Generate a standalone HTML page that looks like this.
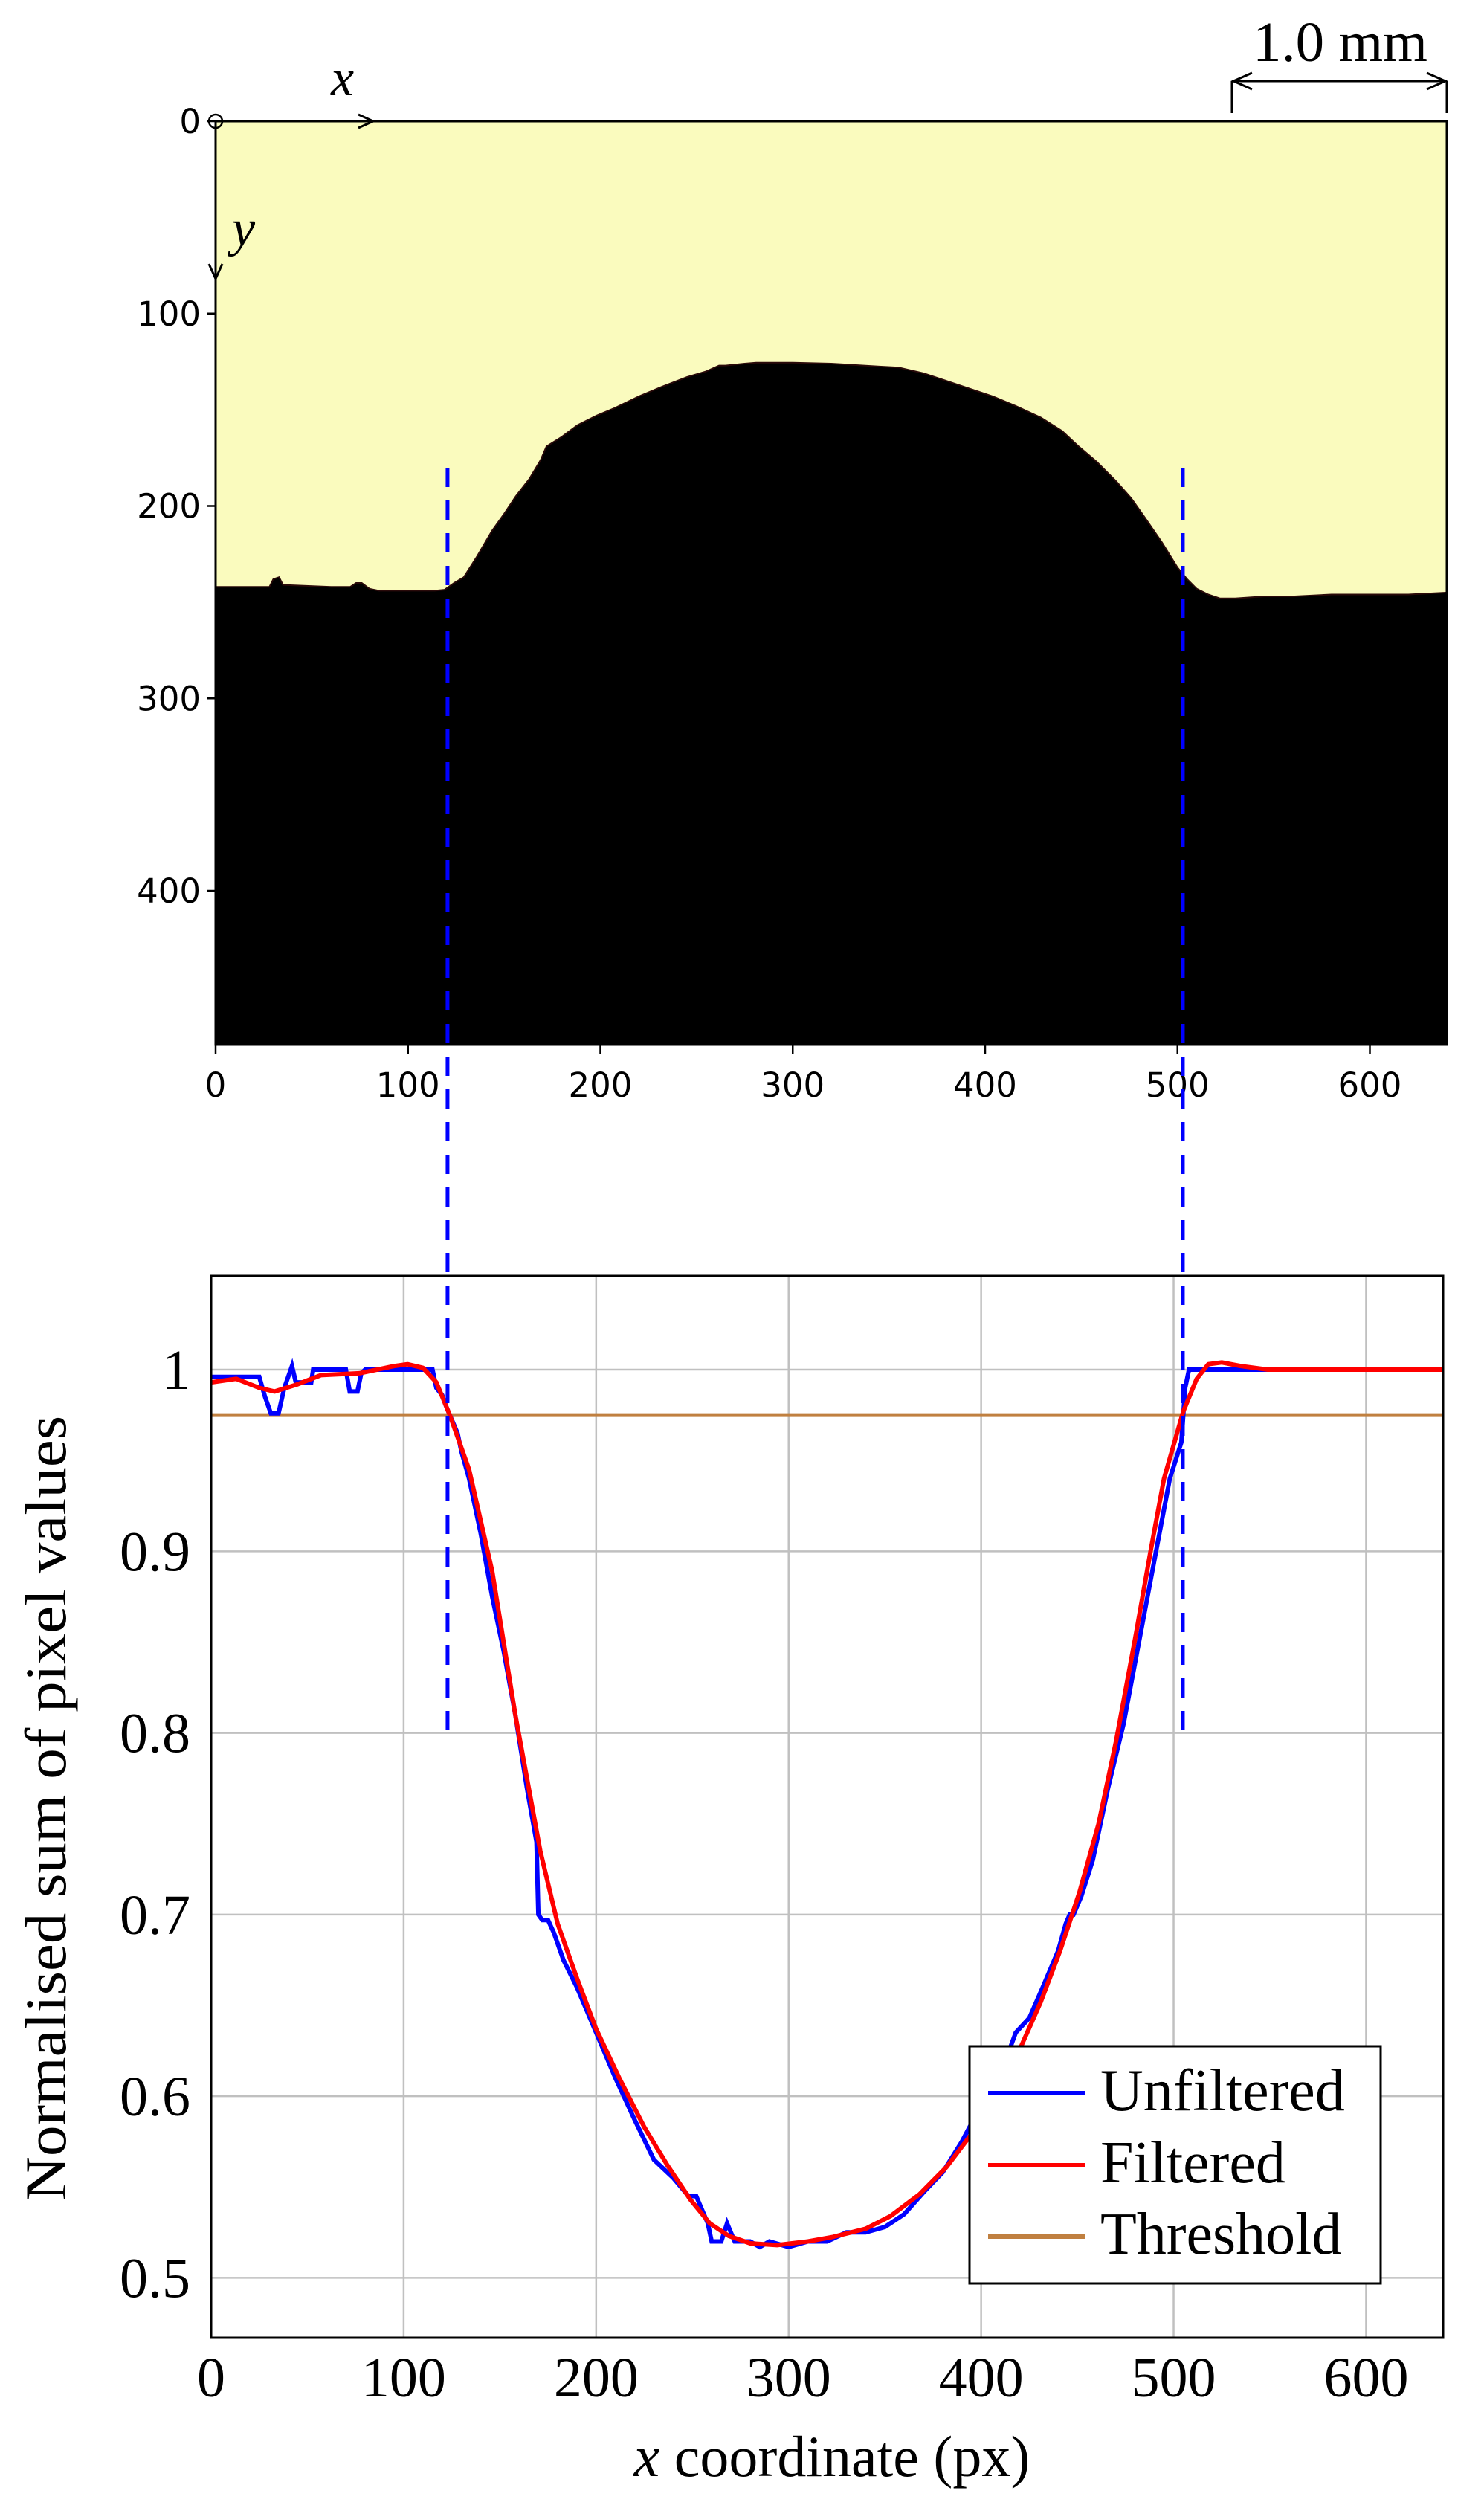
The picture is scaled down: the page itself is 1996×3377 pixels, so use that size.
<!DOCTYPE html>
<html><head><meta charset="utf-8">
<style>
html,body{margin:0;padding:0;background:#fff;}
svg{display:block;}
text{font-family:"Liberation Serif",serif;}
.dj{font-family:"DejaVu Sans",sans-serif;}
</style></head>
<body>
<svg id="fig" width="1996" height="3377" viewBox="0 0 1996 3377" xmlns="http://www.w3.org/2000/svg">
  <g id="top"></g>
  <g id="bot"></g>
  <g id="dash"></g>
</svg>
<script>
// ---------- data ----------
const imgTicksX = [0,100,200,300,400,500,600];
const imgTicksY = [0,100,200,300,400];
// boundary of black region (image px coords)
const boundaryX = [0,28,30,33,35,60,70,73,76,80,85,100,114,119,124,129,136,143.6,150,156,163,169,172,180,188,198,207.6,220,232,245,255,261.7,265,275,281,300,320,330.5,345,355,368,380,392,404,416,429,440,448.6,458,468,476,483,492,500,505,510,516,522,530,545,560,580,600,620,640];
const boundaryY = [242,242,238,237,241,242,242,240,240,243,244,244,244,243.5,240,237,226,213,204,195,186,176,169,164,158,153,149,143,138,133,130,127,127,126,125.5,125.5,126,126.6,127.5,128,131,135,139,143,148,154,161,169,177,187,196,206,219,232,238,243,246,248,248,247,247,246,246,246,245];
const chartTicksX = [0,100,200,300,400,500,600];
const chartTicksY = [0.5,0.6,0.7,0.8,0.9,1];
const chartTickLabelsY = ["0.5","0.6","0.7","0.8","0.9","1"];
const filtX = [0,13,25,33,45,57,77,95,102,110,117,124,134,146,158,171,180,190,200,212,225,237,249,259,269,280,294,310,323,340,353,368,382,397,410,421,431,441,451,461,470,480,488,495,505,512,518,525,535,549,640];
const filtY = [0.993,0.995,0.99,0.988,0.992,0.997,0.998,1.002,1.003,1.001,0.993,0.975,0.945,0.889,0.81,0.735,0.695,0.665,0.637,0.61,0.583,0.562,0.543,0.53,0.523,0.519,0.518,0.52,0.5225,0.527,0.534,0.546,0.561,0.582,0.605,0.628,0.652,0.68,0.712,0.75,0.795,0.852,0.9,0.94,0.977,0.995,1.003,1.004,1.002,1.0,1.0];
const rawX = [0,25,28,31,35,38,40,42,44,46,52,53,70,72,76,78,80,115,117,120,122,124,126,128,130,134,140,146,152,158,164,169,170,172,175,178,183,190,200,210,220,230,240,248,252,258,260,265,268,270,272,274,280,285,290,300,310,320,330,340,350,360,370,380,390,400,410,418,425,432,440,444,446,448,452,458,466,474,482,490,498,504,506,508,640];
const rawY = [0.996,0.996,0.985,0.976,0.976,0.99,0.996,1.002,0.993,0.993,0.993,1.0,1.0,0.988,0.988,0.998,1.0,1.0,0.99,0.986,0.98,0.975,0.97,0.965,0.955,0.94,0.91,0.875,0.845,0.81,0.77,0.74,0.7,0.697,0.697,0.69,0.675,0.66,0.635,0.61,0.587,0.565,0.555,0.545,0.545,0.53,0.52,0.52,0.53,0.525,0.52,0.52,0.52,0.517,0.52,0.517,0.52,0.52,0.525,0.525,0.528,0.535,0.547,0.558,0.575,0.595,0.612,0.635,0.643,0.66,0.68,0.695,0.7,0.7,0.71,0.73,0.77,0.805,0.85,0.895,0.94,0.96,0.99,1.0,1.0];
const threshold = [0.975];
const edgeX = [122.8, 504.8];

const NS="http://www.w3.org/2000/svg";
function mk(tag,attrs,parent){const e=document.createElementNS(NS,tag);for(const k in attrs)e.setAttribute(k,attrs[k]);parent.appendChild(e);return e;}

// ---------- top panel ----------
const T=document.getElementById('top');
const iL=290,iR=1946,iT=163; const ks=(iR-iL)/640; const iB=iT+480*ks;
const ix=v=>iL+v*ks, iy=v=>iT+v*ks;
let r=mk('rect',{x:iL,y:iT,width:iR-iL,height:iB-iT,fill:'#fafbbe'},T);


let d='M'+ix(0)+','+iy(480);
for(let i=0;i<boundaryX.length;i++){d+=' L'+ix(boundaryX[i]).toFixed(1)+','+iy(boundaryY[i]).toFixed(1);}
d+=' L'+ix(640)+','+iy(480)+' Z';
let p=mk('path',{d:d,fill:'#000',stroke:'#2a0a0a','stroke-width':2},T);


let fr=mk('rect',{x:iL,y:iT,width:iR-iL,height:iB-iT,fill:'none',stroke:'#000','stroke-width':3},T);


imgTicksX.forEach(v=>{
  let l=mk('line',{x1:ix(v),x2:ix(v),y1:iB,y2:iB+12,stroke:'#000','stroke-width':2.5},T);
  
  
  let t=mk('text',{x:ix(v),y:iB+70,'text-anchor':'middle','font-size':45,class:'dj'},T);
  t.textContent=v;
  
  
});
imgTicksY.forEach(v=>{
  let l=mk('line',{x1:iL-12,x2:iL,y1:iy(v),y2:iy(v),stroke:'#000','stroke-width':2.5},T);
  
  
  let t=mk('text',{x:iL-20,y:iy(v)+16,'text-anchor':'end','font-size':45,class:'dj'},T);
  t.textContent=v;
  
  
});
// axes arrows
let ax=mk('path',{d:`M${iL},${iT} L${iL+210},${iT} M${iL+192},${iT-9} L${iL+212},${iT} L${iL+192},${iT+9} M${iL},${iT} L${iL},${iT+210} M${iL-9},${iT+192} L${iL},${iT+212} L${iL+9},${iT+192}`,stroke:'#000','stroke-width':3,fill:'none'},T);


let oc=mk('circle',{cx:iL,cy:iT,r:9,fill:'none',stroke:'#000','stroke-width':2.5},T);


let tx=mk('text',{x:445,y:128,'font-size':70,'font-style':'italic'},T);tx.textContent='x';


let ty=mk('text',{x:312,y:330,'font-size':70,'font-style':'italic'},T);ty.textContent='y';


// scale bar
let sb=mk('path',{d:`M1657,109 L1946,109 M1657,109 L1657,152 M1946,109 L1946,152 M1684,98 L1659,109 L1684,120 M1919,98 L1944,109 L1919,120`,stroke:'#000','stroke-width':3,fill:'none'},T);


let st=mk('text',{x:1685,y:82,'font-size':76,textLength:235,lengthAdjust:'spacingAndGlyphs'},T);st.textContent='1.0 mm';



// ---------- bottom chart ----------
const B=document.getElementById('bot');
const cL=284,cR=1941,cT=1716,cB=3144,xMin=0,xMax=640,yMin=0.467,yMax=1.0516;
const cx=v=>cL+(v-xMin)/(xMax-xMin)*(cR-cL);
const cy=v=>cB-(v-yMin)/(yMax-yMin)*(cB-cT);
chartTicksX.forEach(v=>{
  let g=mk('line',{x1:cx(v),x2:cx(v),y1:cT,y2:cB,stroke:'#c0c0c0','stroke-width':2.5},B);
  
  
  let t=mk('text',{x:cx(v),y:3223,'text-anchor':'middle','font-size':76},B);t.textContent=v;
  
  
});
chartTicksY.forEach((v,i)=>{
  let g=mk('line',{x1:cL,x2:cR,y1:cy(v),y2:cy(v),stroke:'#c0c0c0','stroke-width':2.5},B);
  
  
  let t=mk('text',{x:256,y:cy(v)+26,'text-anchor':'end','font-size':76},B);t.textContent=chartTickLabelsY[i];
  
  
});
let th=mk('line',{x1:cL,x2:cR,y1:cy(threshold[0]),y2:cy(threshold[0]),stroke:'#c08040','stroke-width':5},B);


function poly(xs,ys){return xs.map((x,i)=>cx(x).toFixed(1)+','+cy(ys[i]).toFixed(1)).join(' ');}
let ru=mk('polyline',{points:poly(rawX,rawY),fill:'none',stroke:'#0000ff','stroke-width':6,'stroke-linejoin':'miter'},B);


let rf=mk('polyline',{points:poly(filtX,filtY),fill:'none',stroke:'#ff0000','stroke-width':6,'stroke-linejoin':'round'},B);


let cf=mk('rect',{x:cL,y:cT,width:cR-cL,height:cB-cT,fill:'none',stroke:'#000','stroke-width':3},B);


// legend
let lg=mk('g',{},B);


let lb=mk('rect',{x:1304,y:2752,width:553,height:319,fill:'#fff',stroke:'#000','stroke-width':3},lg);


[['Unfiltered','#0000ff',2815],['Filtered','#ff0000',2912],['Threshold','#c08040',3008]].forEach(e=>{
  let l=mk('line',{x1:1329,x2:1459,y1:e[2],y2:e[2],stroke:e[1],'stroke-width':6},lg);
  
  
  let t=mk('text',{x:1480,y:e[2]+23,'font-size':80},lg);t.textContent=e[0];
  
  
});
let xl=mk('text',{x:1119,y:3330,'text-anchor':'middle','font-size':78},B);
xl.innerHTML='<tspan font-style="italic">x</tspan> coordinate (px)';


let yl=mk('text',{x:0,y:0,'text-anchor':'middle','font-size':78,transform:'translate(88,2432) rotate(-90)',textLength:1056,lengthAdjust:'spacingAndGlyphs'},B);
yl.textContent='Normalised sum of pixel values';



// ---------- dashed edge markers ----------
const D=document.getElementById('dash');
edgeX.forEach(v=>{
  let l=mk('line',{x1:cx(v),x2:cx(v),y1:629,y2:cy(0.8),stroke:'#0000ff','stroke-width':5,'stroke-dasharray':'26 18'},D);
  
  
});
</script>
</body></html>
